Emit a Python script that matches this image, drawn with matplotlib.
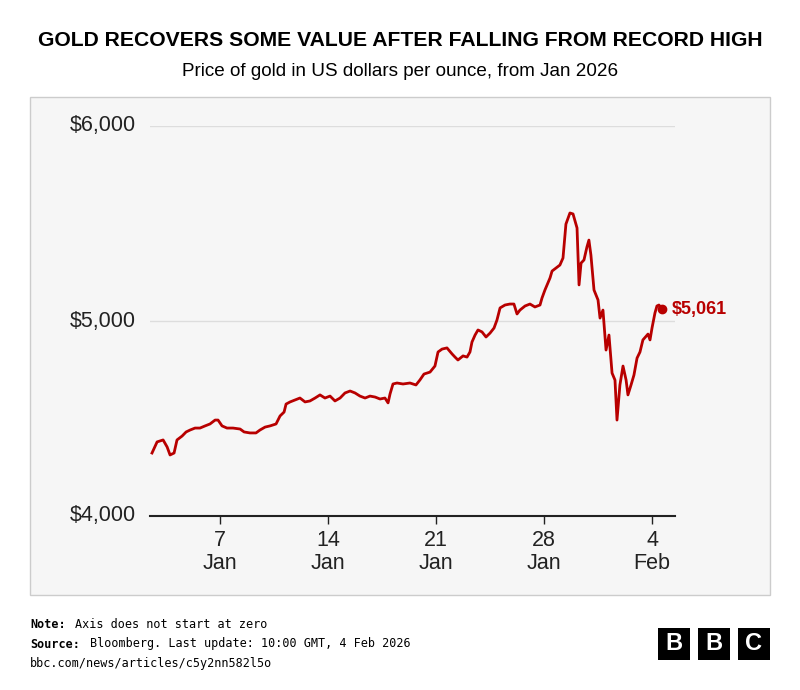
import matplotlib.pyplot as plt
from matplotlib.patches import Rectangle

# day of year (Jan 1 = 1, Feb 4 = 35) and gold price, USD/oz
days = [2.59, 2.92, 3.31, 3.57, 3.76, 4.02, 4.21, 4.54, 4.80, 5.06, 5.38, 5.70, 6.03, 6.35,
        6.68, 6.87, 7.13, 7.45, 7.84, 8.30, 8.56, 8.94, 9.33, 9.59, 9.92, 10.24, 10.63, 10.89,
        11.15, 11.28, 11.54, 11.86, 12.18, 12.51, 12.83, 13.16, 13.48, 13.80, 14.13, 14.45,
        14.78, 15.10, 15.43, 15.75, 16.07, 16.40, 16.72, 17.05, 17.37, 17.69, 17.89, 18.02,
        18.21, 18.47, 18.86, 19.31, 19.70, 19.96, 20.22, 20.61, 20.93, 21.13, 21.39, 21.71,
        22.04, 22.23, 22.42, 22.75, 23.01, 23.20, 23.33, 23.53, 23.72, 23.98, 24.24, 24.50,
        24.76, 24.95, 25.15, 25.47, 25.79, 26.05, 26.25, 26.44, 26.77, 27.09, 27.41, 27.74,
        27.87, 28.06, 28.39, 28.52, 28.78, 29.03, 29.23, 29.42, 29.68, 29.88, 30.14, 30.27,
        30.40, 30.59, 30.78, 30.91, 31.04, 31.24, 31.50, 31.63, 31.82, 32.02, 32.21, 32.41,
        32.60, 32.73, 32.92, 33.12, 33.32, 33.44, 33.64, 33.83, 34.03, 34.22, 34.41, 34.74,
        34.87, 35.00, 35.19, 35.32, 35.45, 35.65]
prices = [4323, 4380, 4390, 4354, 4313, 4323, 4390, 4410, 4431, 4441, 4451, 4451, 4462, 4472,
          4492, 4492, 4462, 4451, 4451, 4446, 4431, 4426, 4426, 4441, 4456, 4462, 4472, 4513,
          4533, 4574, 4585, 4595, 4605, 4585, 4590, 4605, 4621, 4605, 4615, 4590, 4605, 4631,
          4641, 4631, 4615, 4605, 4615, 4610, 4600, 4605, 4580, 4626, 4677, 4682, 4677, 4682,
          4672, 4698, 4728, 4738, 4769, 4841, 4856, 4862, 4831, 4815, 4800, 4821, 4815, 4841,
          4892, 4928, 4954, 4944, 4918, 4938, 4964, 5005, 5067, 5082, 5087, 5087, 5036, 5056,
          5077, 5087, 5072, 5082, 5118, 5159, 5221, 5256, 5272, 5287, 5323, 5497, 5554, 5549,
          5477, 5185, 5297, 5313, 5379, 5415, 5338, 5159, 5108, 5015, 5056, 4851, 4928, 4733,
          4697, 4492, 4672, 4769, 4697, 4621, 4672, 4723, 4810, 4841, 4903, 4933, 4903, 4964,
          5041, 5077, 5082, 5061]
x_ticks = [7, 14, 21, 28, 35]
x_labels = ['7\nJan', '14\nJan', '21\nJan', '28\nJan', '4\nFeb']
y_ticks = [4000, 5000, 6000]
y_labels = ['$4,000', '$5,000', '$6,000']

RED = '#b80000'
W, H = 800, 690
fig = plt.figure(figsize=(8, 6.9), dpi=100)
plt.rcParams['font.family'] = ['Liberation Sans', 'DejaVu Sans']

# grey panel
fig.patches.append(Rectangle((30 / W, 1 - 595 / H), 740 / W, 498 / H, transform=fig.transFigure,
                             facecolor='#f6f6f6', edgecolor='#cccccc', linewidth=1, zorder=0))

fig.text(0.5, 1 - 40 / H, 'GOLD RECOVERS SOME VALUE AFTER FALLING FROM RECORD HIGH',
         ha='center', va='center', fontsize=15.2, fontweight='bold')
fig.text(0.5, 1 - 72 / H, 'Price of gold in US dollars per ounce, from Jan 2026',
         ha='center', va='center', fontsize=13.6)

ax = fig.add_axes([150 / W, 1 - 516 / H, 525 / W, 390 / H])
ax.set_zorder(2)
ax.set_facecolor('none')
ax.plot(days, prices, color=RED, linewidth=2)
ax.plot(days[-1], prices[-1], 'o', color=RED, markersize=6)
ax.text(days[-1] + 0.6, prices[-1], f'${prices[-1]:,}', color=RED, fontsize=13,
        fontweight='bold', va='center', ha='left')

ax.set_xlim(2.46, 36.49)
ax.set_ylim(4000, 6000)
ax.set_yticks(y_ticks)
ax.set_yticklabels([])
ax.tick_params(axis='y', length=0)
for v, lab in zip(y_ticks, y_labels):
    ax.text(-80 / 525, (v - 4000) / 2000, lab, transform=ax.transAxes, fontsize=15.5,
            ha='left', va='center', color='#222222')
ax.grid(axis='y', color='#dddddd', linewidth=1)
ax.set_xticks(x_ticks)
ax.set_xticklabels(x_labels, fontsize=15.5, color='#222222', linespacing=1.15)
ax.tick_params(axis='x', length=6, width=1, color='#222222', pad=4)
for s in ['top', 'right', 'left']:
    ax.spines[s].set_visible(False)
ax.spines['bottom'].set_color('#222222')
ax.spines['bottom'].set_linewidth(1.5)

mono = 'DejaVu Sans Mono'
fs = 8.5
fig.text(30 / W, 1 - 624 / H, 'Note:', fontsize=fs, family=mono, fontweight='bold', va='center')
fig.text(75 / W, 1 - 624 / H, 'Axis does not start at zero', fontsize=fs, family=mono,
         va='center')
fig.text(30 / W, 1 - 644 / H, 'Source:', fontsize=fs, family=mono, fontweight='bold', va='center')
fig.text(90 / W, 1 - 644 / H, 'Bloomberg. Last update: 10:00 GMT, 4 Feb 2026',
         fontsize=fs, family=mono, va='center')
fig.text(30 / W, 1 - 664 / H, 'bbc.com/news/articles/c5y2nn582l5o', fontsize=fs, family=mono,
         va='center')

for i, ch in enumerate('BBC'):
    x0 = 658 + i * 40
    fig.patches.append(Rectangle((x0 / W, 1 - 660 / H), 32 / W, 32 / H, transform=fig.transFigure,
                                 facecolor='black', edgecolor='none'))
    fig.text((x0 + 16) / W, 1 - 644 / H, ch, color='white', fontsize=17, fontweight='bold',
             ha='center', va='center')

fig.savefig('out.png', dpi=100)
